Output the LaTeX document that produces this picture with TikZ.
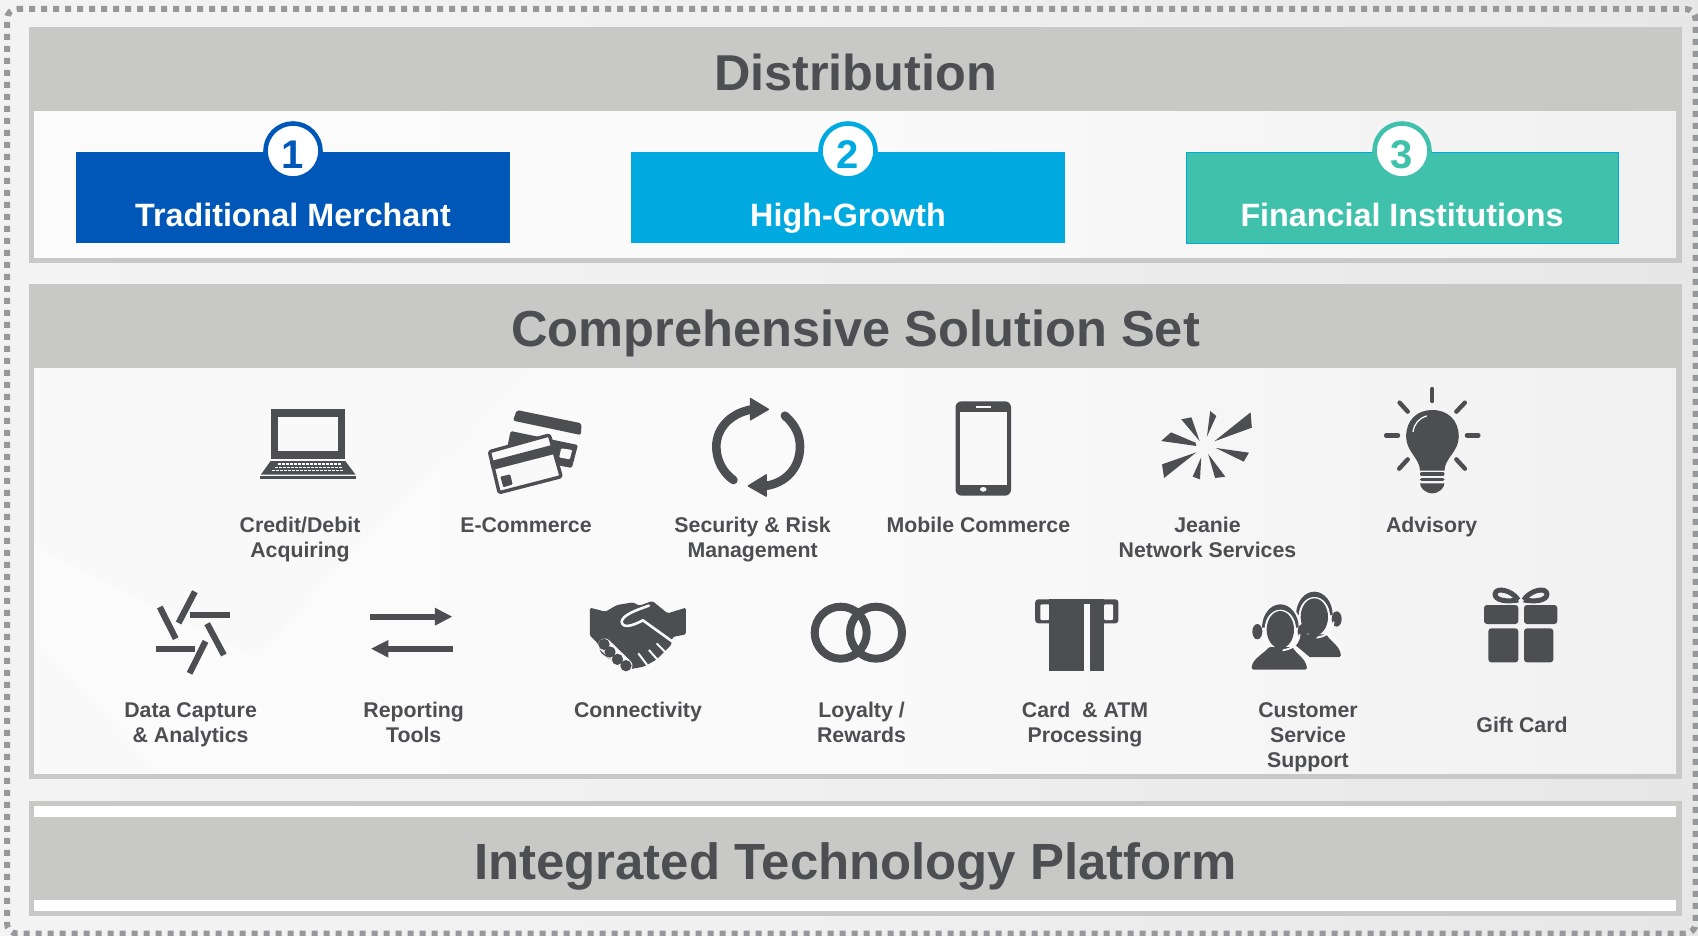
\documentclass[tikz,border=0pt]{standalone}
\usepackage{fontspec}
\setmainfont{Liberation Sans}
\newcommand\agentglyph{%
  \fill[paper] (106,128) ellipse [x radius=62,y radius=74];
  \fill[paper] (12,258) -- (14,215) -- (60,180) -- (150,180) -- (192,215) -- (194,258) -- cycle;
  \fill[ink] (51,128) arc [start angle=180,end angle=360,x radius=55,y radius=70] -- cycle;
  \fill[paper] (106,132) ellipse [x radius=47,y radius=58];
  \fill[ink] (37,140) ellipse [x radius=15,y radius=23];
  \fill[ink] (173,140) ellipse [x radius=15,y radius=23];
  \fill[ink,rounded corners=1.5pt] (20,254) .. controls (20,222) and (55,207) .. (72,186) -- (142,186) .. controls (155,207) and (184,222) .. (186,254) -- cycle;
  \fill[ink] (106,134) ellipse [x radius=41,y radius=56];
  \draw[paper,line width=1.8pt] (164,148) .. controls (160,180) and (140,192) .. (112,196);
  \fill[ink] (108,192) circle [radius=6];
}
\begin{document}
\begin{tikzpicture}[x=1pt,y=-1pt,
  paneledge/.style={fill=panelgray,draw=none},
  headtext/.style={font=\fontsize{50.4}{56}\selectfont\bfseries,text=ink,inner sep=0pt,anchor=base},
  boxtext/.style={font=\fontsize{32.3}{38}\selectfont\bfseries,text=white,inner sep=0pt,anchor=base},
  numdisc/.style={circle,fill=white,line width=4.6pt,minimum size=55pt,inner sep=0pt,font=\fontsize{40}{44}\selectfont\bfseries},
  iconlabel/.style={font=\fontsize{21.3}{25}\selectfont\bfseries,text=ink,inner sep=0pt,anchor=north,align=center},
  zoomA/.style={shift={(220,380)},x=0.40816pt,y=-0.33333pt},
  zoomB/.style={shift={(860,380)},x=0.40816pt,y=-0.33333pt},
  zoomC/.style={shift={(110,570)},x=0.40816pt,y=-0.33333pt},
  zoomD/.style={shift={(780,570)},x=0.52296pt,y=-0.33333pt},
  third/.style={shift={#1},x=0.33333pt,y=-0.33333pt},
  ray/.style={draw=ink,line width=4.4pt,line cap=round},
  bar/.style={draw=ink,line width=6.2pt},
  hole/.style={fill=paper,draw=none},
]
\definecolor{panelgray}{HTML}{C8C8C6}
\definecolor{ink}{HTML}{4D4E52}
\definecolor{dotgray}{HTML}{97989C}
\definecolor{paper}{HTML}{F9F9F9}
\definecolor{tradblue}{HTML}{0057B8}
\definecolor{growblue}{HTML}{00A9E0}
\definecolor{finteal}{HTML}{40C1AC}
\definecolor{bgL}{HTML}{F4F3F3}
\definecolor{bgR}{HTML}{E8E7E7}
\definecolor{whL}{HTML}{FBFBFB}
\definecolor{whR}{HTML}{F1F1F1}
\useasboundingbox (0,0) rectangle (1698,936);
% background
\shade[left color=bgL,right color=bgR,middle color=bgL!70!bgR] (0,0) rectangle (1698,936);
\draw[dotgray,line width=6pt,dash pattern=on 6pt off 6pt,rounded corners=10pt] (7,9) -- (1695.5,9) -- (1695.5,933.5) -- (7,933.5) -- cycle;
% panel 1
\fill[paneledge] (29,27) rectangle (1682,263);
\shade[left color=whL,right color=whR,middle color=whL!90!whR] (34,112) rectangle (1676,258);
\node[headtext] (dist) at (855.5,91) {Distribution};
% panel 2
\fill[paneledge] (29,284) rectangle (1682,778.5);
\shade[left color=whL,right color=whR,middle color=whL!90!whR] (34,368) rectangle (1676,773);
\fill[black,opacity=0.009] (34,545) -- (257,658) -- (345,560) -- (535,368) -- (34,368) -- cycle;
\fill[black,opacity=0.006] (34,773) -- (34,640) -- (160,773) -- cycle;
\node[headtext,font=\fontsize{50.6}{56}\selectfont\bfseries] (comp) at (855.5,346.5) {Comprehensive Solution Set};
% panel 3
\fill[paneledge] (29,800.5) rectangle (1682,916);
\fill[white] (34,806) rectangle (1676,817);
\fill[white] (34,900) rectangle (1676,911);
\node[headtext,font=\fontsize{50.9}{56}\selectfont\bfseries] (plat) at (855.5,879) {Integrated Technology Platform};
% distribution boxes
\fill[tradblue] (76,152) rectangle (510,243);
\fill[growblue] (631,152) rectangle (1064.5,243);
\filldraw[fill=finteal,draw=growblue,line width=0.9pt] (1186,152.5) rectangle (1618,243);
\node[numdisc,draw=tradblue,text=tradblue] (n1) at (293,151) {\raisebox{-17.5pt}[0pt][0pt]{1}};
\node[numdisc,draw=growblue,text=growblue] (n2) at (848,151) {\raisebox{-17.5pt}[0pt][0pt]{2}};
\node[numdisc,draw=finteal,text=finteal] (n3) at (1402,151) {\raisebox{-17.5pt}[0pt][0pt]{3}};
\node[boxtext] (b1) at (293,227) {Traditional Merchant};
\node[boxtext] (b2) at (848,227) {High-Growth};
\node[boxtext] (b3) at (1402,227) {Financial Institutions};
% laptop
\begin{scope}[zoomA]
 \fill[ink] (124,88) rectangle (307,237);
 \fill[hole] (143,111) rectangle (289,214);
 \fill[ink] (124,243) -- (307,243) -- (332,284) -- (100,284) -- cycle;
 \fill[ink] (98,287) rectangle (333,297);
 \draw[white,line width=1.5pt,dash pattern=on 3pt off 1pt] (142,252) -- (296,252);
 \draw[white,line width=1.5pt,dash pattern=on 3pt off 1pt] (135,262) -- (298,262);
 \draw[white,line width=1.5pt,dash pattern=on 3pt off 1pt] (127,272) -- (303,272);
 % cards
 \fill[ink,rounded corners=2pt] (727,90) -- (886,130) -- (884,165) -- (718,122) -- cycle;
 \fill[ink,rounded corners=1.5pt] (712,153) -- (877,195) -- (862,264) -- (700,225) -- cycle;
 \fill[hole,rounded corners=1pt] (836,205) -- (863,210) -- (857,238) -- (831,232) -- cycle;
 \filldraw[fill=paper,draw=ink,line width=3.4pt,rounded corners=2pt,line join=round] (660,215) -- (807,165) -- (836,290) -- (684,338) -- cycle;
 \fill[ink] (661,244) -- (816,194) -- (823,221) -- (667,270) -- cycle;
 \fill[ink,rounded corners=1pt] (687,290) -- (711,283) -- (717,313) -- (694,322) -- cycle;
 % security arrows
 \fill[ink,rounded corners=1pt] (1298,52) -- (1347,88) -- (1298,123) -- cycle;
 \fill[ink,rounded corners=1pt] (1340,281) -- (1291,318) -- (1340,352) -- cycle;
 \draw[ink,line width=8.6pt,line cap=round] (1303,88) .. controls (1250,100) and (1216,145) .. (1216,200) .. controls (1216,240) and (1232,278) .. (1258,300);
 \draw[ink,line width=8.6pt,line cap=round] (1384,107) .. controls (1410,135) and (1421,165) .. (1421,200) .. controls (1421,265) and (1385,310) .. (1335,318);
\end{scope}
% phone, burst, bulb
\begin{scope}[zoomB]
 \fill[ink,rounded corners=6pt] (234,64) rectangle (370,347);
 \fill[hole] (245,95) rectangle (360,314);
 \fill[hole] (283,78) rectangle (321,83);
 \fill[hole] (302,328) ellipse [x radius=8,y radius=7];
 \fill[ink] (738,183) -- (762,157) -- (822,188) -- (824,198) -- cycle;
 \fill[ink] (787,118) -- (812,112) -- (832,183) -- cycle;
 \fill[ink] (858,93) -- (873,108) -- (850,170) -- cycle;
 \fill[ink] (957,97) -- (960,143) -- (868,184) -- cycle;
 \fill[ink] (872,204) -- (953,218) -- (940,245) -- cycle;
 \fill[ink] (853,222) -- (895,290) -- (870,294) -- cycle;
 \fill[ink] (836,232) -- (833,298) -- (815,290) -- cycle;
 \fill[ink] (824,217) -- (745,294) -- (740,253) -- cycle;
 \draw[ray] (1402,27) -- (1402,63);
 \draw[ray] (1322,68) -- (1342,95);
 \draw[ray] (1482,68) -- (1461,95);
 \draw[ray] (1289,166) -- (1318,166);
 \draw[ray] (1487,166) -- (1515,166);
 \draw[ray] (1321,266) -- (1342,238);
 \draw[ray] (1482,266) -- (1461,238);
 \fill[ink] (1372,272) .. controls (1372,235) and (1338,215) .. (1338,170) .. controls (1338,120) and (1365,90) .. (1402,90) .. controls (1440,90) and (1467,120) .. (1467,170) .. controls (1467,215) and (1432,235) .. (1432,272) -- cycle;
 \draw[paper,line width=1.3pt,line cap=round] (1355,155) .. controls (1358,130) and (1370,115) .. (1388,108);
 \draw[ink,line width=3.4pt,line cap=round] (1376,282) -- (1428,282);
 \draw[ink,line width=3.4pt,line cap=round] (1376,299) -- (1428,299);
 \fill[ink] (1372,310) -- (1432,310) .. controls (1432,322) and (1420,340) .. (1402,340) .. controls (1384,340) and (1372,322) .. (1372,310) -- cycle;
\end{scope}
% data capture, reporting
\begin{scope}[zoomC]
 \draw[bar] (197,134) -- (294,134);
 \draw[bar] (113,238) -- (209,238);
 \draw[bar] (208,65) -- (168,159);
 \draw[bar] (122,111) -- (161,206);
 \draw[bar] (238,161) -- (279,255);
 \draw[bar] (234,214) -- (195,310);
 \draw[bar] (638,140) -- (800,140);
 \fill[ink] (796,113) -- (838,140) -- (796,167) -- cycle;
 \draw[bar] (840,236) -- (680,236);
 \fill[ink] (682,210) -- (640,236) -- (682,263) -- cycle;
\end{scope}
% connectivity
\begin{scope}[third={(580,595)},x=0.3533pt]
 \fill[ink,rounded corners=1.5pt] (28,38) -- (72,50) -- (105,30) -- (150,22) -- (168,32) -- (205,18) -- (248,55) -- (300,38) -- (300,118) -- (262,126) -- (258,150) -- (215,195) -- (180,215) -- (130,225) -- (60,175) -- (50,145) -- (28,122) -- cycle;
 \draw[paper,line width=2.6pt,line join=round,line cap=round] (195,32) .. controls (160,45) and (120,60) .. (118,80) .. controls (120,102) and (150,92) .. (178,76) -- (262,140);
 \draw[paper,line width=2pt] (165,175) -- (190,210);
 \draw[paper,line width=2pt] (195,165) -- (220,195);
 \draw[paper,line width=2pt] (217,145) -- (240,170);
 \draw[paper,line width=13pt,line cap=round] (70,150) -- (130,212);
 \fill[ink] (68,148) ellipse [x radius=16,y radius=17];
 \fill[ink] (85,171) ellipse [x radius=16,y radius=17];
 \fill[ink] (106,193) ellipse [x radius=16,y radius=17];
 \fill[ink] (130,212) ellipse [x radius=16,y radius=17];
\end{scope}
% loyalty rings
\draw[ink,line width=8pt] (840.7,632.7) circle [radius=26];
\draw[ink,line width=8pt] (876,632.7) circle [radius=26];
% card
\begin{scope}[zoomD]
 \fill[ink,rounded corners=3pt] (488,88) rectangle (647,160);
 \fill[hole,rounded corners=1pt] (498,103) rectangle (515,150);
 \fill[hole,rounded corners=1pt] (620,103) rectangle (637,150);
 \fill[ink] (515,88) rectangle (620,303);
 \fill[hole] (582,103) rectangle (592,303);
\end{scope}
% agents
\begin{scope}[third={(1245,585)}]
 \begin{scope}[shift={(102,-38)}]\agentglyph\end{scope}
 \agentglyph
\end{scope}
% gift
\begin{scope}[third={(1470,580)}]
 \fill[ink,rounded corners=3pt] (42,75) rectangle (145,132);
 \fill[ink,rounded corners=3pt] (162,75) rectangle (262,132);
 \fill[ink,rounded corners=3pt] (55,145) rectangle (145,247);
 \fill[ink,rounded corners=3pt] (162,145) rectangle (250,247);
 \draw[ink,line width=5pt,line join=round] (145,60) .. controls (110,66) and (75,62) .. (75,42) .. controls (78,20) and (125,30) .. (145,60);
 \draw[ink,line width=5pt,line join=round] (161,60) .. controls (196,66) and (231,62) .. (231,42) .. controls (228,20) and (181,30) .. (161,60);
\end{scope}
% labels
\node[iconlabel] (l1) at (300,514.5) {\strut Credit/Debit\\\strut Acquiring};
\node[iconlabel] (l2) at (526,514.5) {\strut E-Commerce};
\node[iconlabel] (l3) at (752.6,514.5) {\strut Security \& Risk\\\strut Management};
\node[iconlabel] (l4) at (978.4,514.5) {\strut Mobile Commerce};
\node[iconlabel] (l5) at (1207.5,514.5) {\strut Jeanie\\\strut Network Services};
\node[iconlabel] (l6) at (1431.6,514.5) {\strut Advisory};
\node[iconlabel] (l7) at (190.6,699.5) {\strut Data Capture\\\strut \& Analytics};
\node[iconlabel] (l8) at (413.7,699.5) {\strut Reporting\\\strut Tools};
\node[iconlabel] (l9) at (638,699.5) {\strut Connectivity};
\node[iconlabel] (l10) at (861.5,699.5) {\strut Loyalty /\\\strut Rewards};
\node[iconlabel] (l11) at (1085,699.5) {\strut Card\ \ \& ATM\\\strut Processing};
\node[iconlabel] (l12) at (1308,699.5) {\strut Customer\\\strut Service\\\strut Support};
\node[iconlabel] (l13) at (1522,714.5) {\strut Gift Card};
\end{tikzpicture}
\end{document}
